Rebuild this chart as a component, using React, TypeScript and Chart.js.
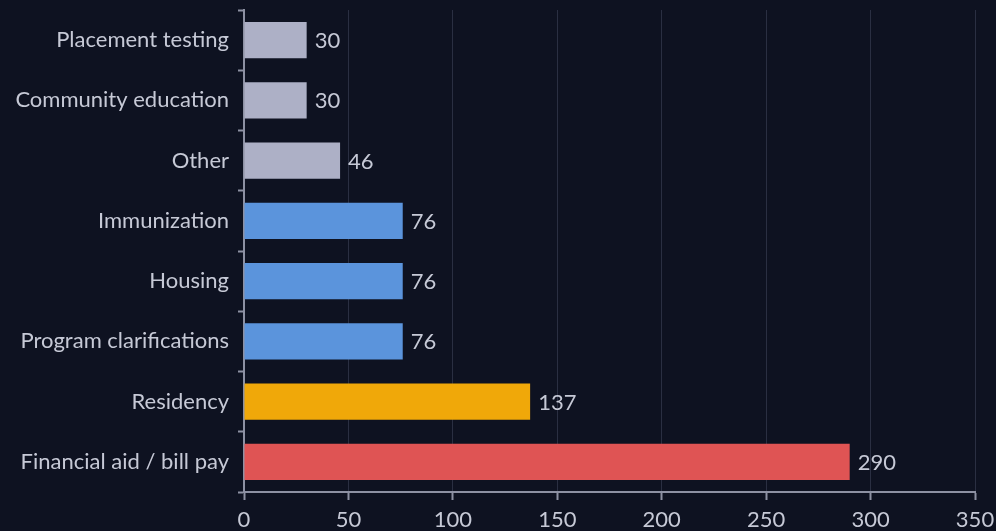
import React, { useEffect, useRef } from "react";
import { Chart, registerables } from "chart.js";

Chart.register(...registerables);

const categories = [
  "Placement testing",
  "Community education",
  "Other",
  "Immunization",
  "Housing",
  "Program clarifications",
  "Residency",
  "Financial aid / bill pay",
];
const counts = [30, 30, 46, 76, 76, 76, 137, 290];
const barColors = [
  "#adb0c6",
  "#adb0c6",
  "#adb0c6",
  "#5b94dc",
  "#5b94dc",
  "#5b94dc",
  "#f0a809",
  "#df5454",
];
const xTicks = [0, 50, 100, 150, 200, 250, 300, 350];

const FONT = "Lato, 'Open Sans', sans-serif";
const TEXT = "#c6c9d6";

const valueLabels = {
  id: "valueLabels",
  afterDatasetsDraw(chart: any) {
    const ctx = chart.ctx;
    const meta = chart.getDatasetMeta(0);
    ctx.save();
    ctx.font = `22px ${FONT}`;
    ctx.fillStyle = TEXT;
    ctx.textAlign = "left";
    ctx.textBaseline = "middle";
    meta.data.forEach((bar: any, i: number) => {
      ctx.fillText(String(counts[i]), bar.x + 8, bar.y + 1);
    });
    ctx.restore();
  },
};

export default function App() {
  const ref = useRef<HTMLCanvasElement | null>(null);
  useEffect(() => {
    document.body.style.background = "#0e1221";
    const chart = new Chart(ref.current as HTMLCanvasElement, {
      type: "bar",
      data: {
        labels: categories,
        datasets: [
          {
            data: counts,
            backgroundColor: barColors,
            borderWidth: 0,
            categoryPercentage: 0.8,
            barPercentage: 0.75,
          },
        ],
      },
      options: {
        indexAxis: "y",
        animation: false,
        responsive: true,
        maintainAspectRatio: false,
        layout: { padding: { left: 0, right: 21, top: 10, bottom: 0 } },
        plugins: {
          legend: { display: false },
          tooltip: { enabled: false },
        },
        scales: {
          x: {
            min: 0,
            max: 350,
            afterBuildTicks: (scale: any) => {
              scale.ticks = xTicks.map((v) => ({ value: v }));
            },
            afterFit: (scale: any) => {
              scale.height = 39;
              scale.paddingLeft = 0;
              scale.paddingRight = 0;
            },
            grid: {
              color: "#2a2f42",
              lineWidth: 1,
              drawTicks: true,
              tickLength: 8,
              tickColor: "#8d91a3",
              tickWidth: 2,
            },
            border: { display: true, color: "#8d91a3", width: 2 },
            ticks: {
              color: TEXT,
              font: { family: FONT, size: 22 },
              padding: 7,
              maxRotation: 0,
            },
          },
          y: {
            afterFit: (scale: any) => {
              scale.width = 244;
              scale.paddingTop = 0;
              scale.paddingBottom = 0;
            },
            grid: {
              offset: true,
              drawOnChartArea: false,
              drawTicks: true,
              tickLength: 6,
              tickColor: "#8d91a3",
              tickWidth: 2,
            },
            border: { display: true, color: "#8d91a3", width: 2 },
            ticks: {
              color: TEXT,
              font: { family: FONT, size: 22 },
              padding: 9,
            },
          },
        },
      },
      plugins: [valueLabels],
    });
    return () => chart.destroy();
  }, []);
  return (
    <div
      style={{
        position: "absolute",
        left: 0,
        top: 0,
        width: 996,
        height: 531,
        background: "#0e1221",
      }}
    >
      <canvas ref={ref} />
    </div>
  );
}
